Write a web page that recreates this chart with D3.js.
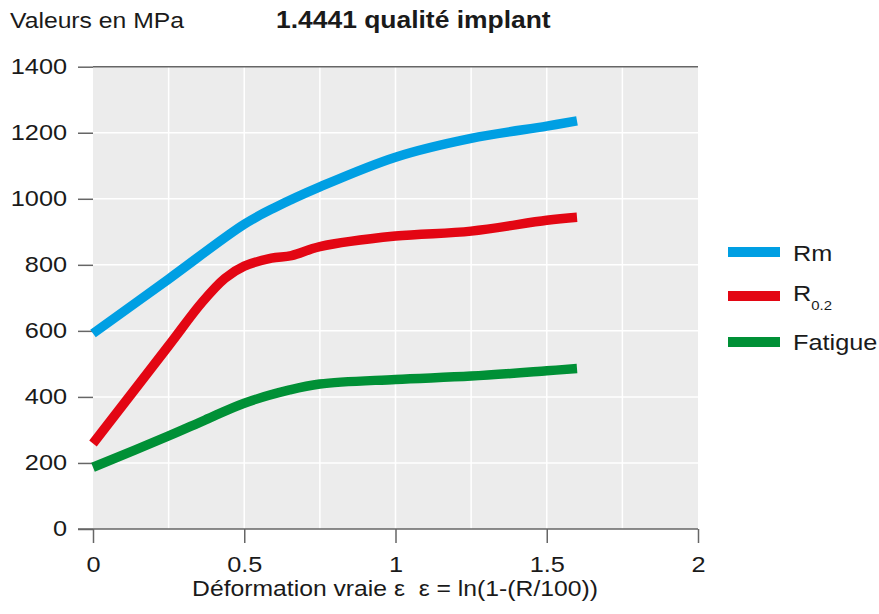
<!DOCTYPE html>
<html>
<head>
<meta charset="utf-8">
<style>
  body { margin: 0; background: #fff; }
  text { font-family: "Liberation Sans", Arial, Helvetica, sans-serif; fill: #1a1a1a; }
</style>
</head>
<body>
<svg width="879" height="614"></svg>
<script src="https://d3js.org/d3.v7.min.js"></script>
<script>
// valeurs (déformation, MPa)
var rmStrain = [0, 0.25, 0.5, 0.6, 0.75, 1.0, 1.25, 1.5, 1.6];
var rm       = [592, 757, 923, 973, 1036, 1126, 1183, 1220, 1236];
var r02Strain = [0, 0.25, 0.36, 0.436, 0.5, 0.59, 0.656, 0.75, 1.0, 1.25, 1.5, 1.6];
var r02       = [259, 555, 686, 759, 796, 820, 828, 855, 887, 902, 935, 944];
var fatStrain = [0, 0.25, 0.37, 0.5, 0.65, 0.75, 1.0, 1.25, 1.5, 1.6];
var fatigue   = [187, 282, 330, 381, 421, 439, 453, 463, 479, 486];

var seriesNames = ['Rm', 'R0.2', 'Fatigue'];
var seriesColors = ['#009fe3', '#e30613', '#009036'];
var seriesStrain = [rmStrain, r02Strain, fatStrain];
var seriesValues = [rm, r02, fatigue];

var xTicks = [0, 0.5, 1, 1.5, 2];
var xGrid = [0.25, 0.5, 0.75, 1, 1.25, 1.5, 1.75];
var yTicks = [0, 200, 400, 600, 800, 1000, 1200, 1400];

var SX = 1.15; // le texte de l'original est un peu étiré en largeur

var svg = d3.select('svg');
var x = d3.scaleLinear().domain([0, 2]).range([93, 698]);
var y = d3.scaleLinear().domain([0, 1400]).range([529, 66.7]);

// fond gris
svg.append('rect')
    .attr('x', x(0)).attr('y', y(1400))
    .attr('width', x(2) - x(0)).attr('height', y(0) - y(1400))
    .attr('fill', '#ececec');

// grille blanche
svg.append('g').selectAll('line').data(xGrid).enter().append('line')
    .attr('x1', d => x(d)).attr('x2', d => x(d))
    .attr('y1', y(1400)).attr('y2', y(0))
    .attr('stroke', '#fff').attr('stroke-width', 1.5);
svg.append('g').selectAll('line').data(yTicks.slice(1, -1)).enter().append('line')
    .attr('x1', x(0)).attr('x2', x(2))
    .attr('y1', d => y(d)).attr('y2', d => y(d))
    .attr('stroke', '#fff').attr('stroke-width', 1.5);

// trait du haut
svg.append('line')
    .attr('x1', x(0)).attr('x2', x(2))
    .attr('y1', y(1400)).attr('y2', y(1400))
    .attr('stroke', '#666').attr('stroke-width', 1.5);

// axes
var fmt = d3.format('');
var yAxis = svg.append('g')
    .attr('transform', 'translate(' + x(0) + ',0)')
    .call(d3.axisLeft(y).tickValues(yTicks).tickFormat(fmt).tickSize(15).tickSizeOuter(0));
yAxis.select('.domain').remove();
yAxis.selectAll('line').attr('stroke', '#666').attr('stroke-width', 1.5);
yAxis.selectAll('text')
    .attr('x', -26 / SX).attr('dy', null).attr('y', 6.5)
    .attr('transform', 'scale(' + SX + ',1)')
    .attr('font-size', 22).attr('font-family', null).attr('fill', '#1a1a1a');

var xAxis = svg.append('g')
    .attr('transform', 'translate(0,' + y(0) + ')')
    .call(d3.axisBottom(x).tickValues(xTicks).tickFormat(fmt).tickSize(14).tickSizeOuter(0));
xAxis.select('.domain').attr('stroke', '#666').attr('stroke-width', 1.5)
    .attr('d', 'M' + (x(0) - 15) + ',0H' + x(2));
xAxis.selectAll('line').attr('stroke', '#666').attr('stroke-width', 1.5);
xAxis.selectAll('text')
    .attr('dy', null).attr('y', 42.7)
    .attr('transform', 'scale(' + SX + ',1)')
    .attr('font-size', 22).attr('font-family', null).attr('fill', '#1a1a1a');

// courbes
var line = d3.line()
    .x(d => x(d[0]))
    .y(d => y(d[1]))
    .curve(d3.curveCatmullRom.alpha(0.5));

svg.append('g').selectAll('path')
    .data(seriesValues.map((vals, i) => vals.map((v, j) => [seriesStrain[i][j], v])))
    .enter().append('path')
    .attr('d', line)
    .attr('fill', 'none')
    .attr('stroke', (d, i) => seriesColors[i])
    .attr('stroke-width', 9.5)
    .attr('stroke-linecap', 'butt')
    .attr('stroke-linejoin', 'round');

// textes
function label(px, py, str, size, weight, anchor) {
    return svg.append('g')
        .attr('transform', 'translate(' + px + ',' + py + ') scale(' + SX + ',1)')
        .append('text')
        .attr('font-size', size)
        .attr('font-weight', weight || 'normal')
        .attr('text-anchor', anchor || 'start')
        .text(str);
}
label(10, 28, 'Valeurs en MPa', 21.5);
label(276, 28, '1.4441 qualité implant', 23, 'bold');
label(395, 596, 'Déformation vraie ε\u00a0\u00a0ε = ln(1-(R/100))', 21.5, 'normal', 'middle');

// légende
var legendY = [252, 296, 342];
var legend = svg.append('g');
legend.selectAll('line').data(seriesNames).enter().append('line')
    .attr('x1', 728).attr('x2', 780)
    .attr('y1', (d, i) => legendY[i]).attr('y2', (d, i) => legendY[i])
    .attr('stroke', (d, i) => seriesColors[i])
    .attr('stroke-width', 10);

label(793, legendY[0] + 8.5, 'Rm', 22);
var r = label(793, legendY[1] + 5, 'R', 22);
r.append('tspan').attr('font-size', 13).attr('dy', 9).text('0.2');
label(793, legendY[2] + 8, 'Fatigue', 22);
</script>
</body>
</html>
